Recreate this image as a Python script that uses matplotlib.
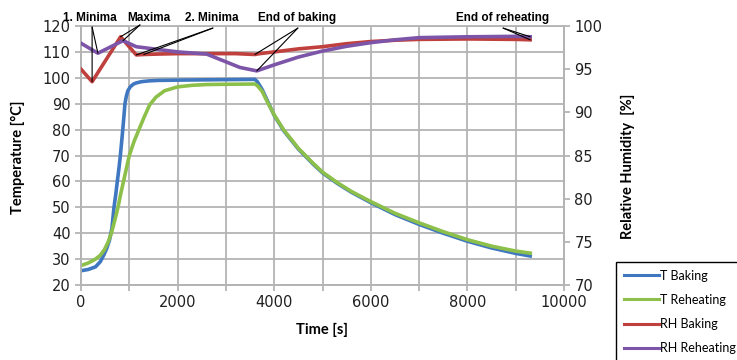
import matplotlib
matplotlib.use("Agg")
import matplotlib.pyplot as plt
from matplotlib.ticker import MultipleLocator

# ---------------- data ----------------
t_T_bake = [0, 150, 300, 400, 470, 530, 590, 640, 683, 720, 752, 785, 815, 840, 865, 888, 910,
            940, 970, 1020, 1080, 1140, 1250, 1400, 1600, 2000, 2500, 3000, 3600,
            3650, 3750, 3850, 4000, 4200, 4500, 4800, 5000, 5300, 5600, 6000, 6500,
            7000, 7500, 8000, 8500, 9000, 9300]
T_bake = [25.5, 26, 27, 29, 31.5, 34, 37.3, 42, 50, 55, 60, 65, 70, 75, 80, 85, 90,
          93, 95, 96.5, 97.5, 98, 98.5, 98.8, 99, 99.1, 99.2, 99.3, 99.4,
          98.5, 95.5, 91.5, 85.5, 79.5, 72.5, 66.8, 63.3, 59.3, 55.8, 51.8, 47.2,
          43.4, 40, 36.9, 34.3, 32.2, 31.2]

t_T_reheat = [0, 150, 300, 400, 480, 560, 628, 700, 766, 820, 880, 940, 1000, 1100, 1200,
              1300, 1420, 1550, 1730, 2000, 2300, 2600, 3000, 3600,
              3650, 3750, 3850, 4000, 4200, 4500, 4800, 5000, 5300, 5600, 6000, 6500,
              7000, 7500, 8000, 8500, 9000, 9300]
T_reheat = [27.5, 28.5, 30, 31.5, 33.5, 36.5, 40, 45, 50, 55, 60, 65, 70, 75.5, 80,
            84.5, 89.5, 92.5, 95, 96.5, 97.1, 97.4, 97.5, 97.6,
            97, 94.8, 91, 85.7, 79.8, 72.8, 67.1, 63.6, 59.6, 56.1, 52.2, 47.7,
            44, 40.6, 37.5, 35, 33.1, 32.3]

t_RH_bake = [0, 230, 820, 1145, 1300, 1600, 2000, 2600, 3200, 3600, 3700, 4000, 4500,
             5000, 5500, 6000, 6500, 7000, 8000, 9000, 9300]
RH_bake = [95.0, 93.55, 98.75, 96.65, 96.7, 96.75, 96.8, 96.8, 96.8, 96.7, 96.8, 97.0, 97.35,
           97.6, 97.95, 98.2, 98.35, 98.45, 98.5, 98.45, 98.4]

t_RH_reheat = [0, 350, 870, 1145, 2000, 2600, 3290, 3640, 4000, 4500, 5000, 5500, 6000,
               6500, 7000, 8000, 9000, 9300]
RH_reheat = [98.0, 96.85, 98.3, 97.6, 97.0, 96.75, 95.2, 94.8, 95.5, 96.4, 97.1, 97.65, 98.07,
             98.4, 98.65, 98.75, 98.8, 98.75]

labels = ["T Baking", "T Reheating", "RH Baking", "RH Reheating"]
colors = ["#3f78c1", "#8dc04a", "#c0403e", "#7d55a8"]

# annotations: (text, [(series, index), ...])
annotations = [
    ("1. Minima", [("bake", 1), ("reheat", 1)]),
    ("Maxima", [("bake", 2), ("reheat", 2)]),
    ("2. Minima", [("bake", 3), ("bake", 4)]),
    ("End of baking", [("bake", 9), ("reheat", 7)]),
    ("End of reheating", [("bake", -1), ("reheat", -1)]),
]
# layout: text x (axes fraction), line anchor (axes fraction)
ann_text_x = [0.019, 0.141, 0.271, 0.447, 0.872]
ann_anchor = [(0.023, 0.996), (0.122, 1.004), (0.273, 0.992), (0.449, 0.992), (0.874, 0.992)]

# ---------------- figure ----------------
fig = plt.figure(figsize=(7.37, 3.6), dpi=100)
ax = fig.add_axes([81 / 737, 1 - 285 / 360, 483 / 737, 259 / 360])
ax2 = ax.twinx()

grid_c = "#b4b4b4"
lw = 2.6
l1, = ax.plot(t_T_bake, T_bake, color=colors[0], lw=lw, label=labels[0], zorder=3)
l2, = ax.plot(t_T_reheat, T_reheat, color=colors[1], lw=lw, label=labels[1], zorder=4)
l3, = ax2.plot(t_RH_bake, RH_bake, color=colors[2], lw=lw, label=labels[2], zorder=3)
l4, = ax2.plot(t_RH_reheat, RH_reheat, color=colors[3], lw=lw, label=labels[3], zorder=4)

ax.set_xlim(0, 10000)
ax.set_ylim(20, 120)
ax2.set_ylim(70, 100)
ax.xaxis.set_major_locator(MultipleLocator(2000))
ax.xaxis.set_minor_locator(MultipleLocator(1000))
ax.yaxis.set_major_locator(MultipleLocator(10))
ax2.yaxis.set_major_locator(MultipleLocator(5))

ax.grid(True, which="both", axis="x", color=grid_c, lw=1.3)
ax.grid(True, which="major", axis="y", color=grid_c, lw=1.3)
ax.set_axisbelow(True)

for a in (ax, ax2):
    for s in a.spines.values():
        s.set_color(grid_c)
        s.set_linewidth(1.3)
    a.tick_params(colors=grid_c, labelcolor="#202020", labelsize=10.5, width=1.3, length=4)
ax.tick_params(which="minor", colors=grid_c, length=4, width=1.3)
ax2.spines["top"].set_visible(False)

lab_font = dict(family=["Lato", "DejaVu Sans"], weight="bold", size=10.5)
ax.set_xlabel("Time [s]", **lab_font)
ax.set_ylabel("Temperature [°C]", **lab_font)
ax2.set_ylabel("Relative Humidity  [%]", **lab_font)
ax.xaxis.set_label_coords(0.499, -0.147)
ax.yaxis.set_label_coords(-0.116, 0.494)
ax2.yaxis.set_label_coords(1.118, 0.46)

# annotations
series = {"bake": (t_RH_bake, RH_bake), "reheat": (t_RH_reheat, RH_reheat)}
ann_font = dict(family=["Liberation Sans Narrow", "Liberation Sans", "DejaVu Sans"],
                weight="bold", size=8.5)
for (txt, targets), tx, anc in zip(annotations, ann_text_x, ann_anchor):
    ax2.text(tx, 1.031, txt, transform=ax2.transAxes, ha="center", va="center",
             clip_on=False, **ann_font)
    for name, idx in targets:
        ts, vs = series[name]
        ax2.annotate("", xy=(ts[idx], vs[idx]), xycoords="data",
                     xytext=anc, textcoords="axes fraction",
                     arrowprops=dict(arrowstyle="-", color="black", lw=0.8,
                                     shrinkA=0, shrinkB=0),
                     annotation_clip=False, zorder=6)

leg = fig.legend([l1, l2, l3, l4], labels, loc="upper left",
                 bbox_to_anchor=(616 / 737, 1 - 262 / 360),
                 prop=dict(family=["Lato", "DejaVu Sans"], size=9),
                 frameon=True, fancybox=False, framealpha=1, edgecolor="black",
                 borderpad=0.6, labelspacing=0.98, handlelength=2.8,
                 handletextpad=0.1, borderaxespad=0)
leg.get_frame().set_linewidth(1.0)
for h in leg.get_lines():
    h.set_linewidth(2.2)

fig.savefig("out.png", dpi=100)
